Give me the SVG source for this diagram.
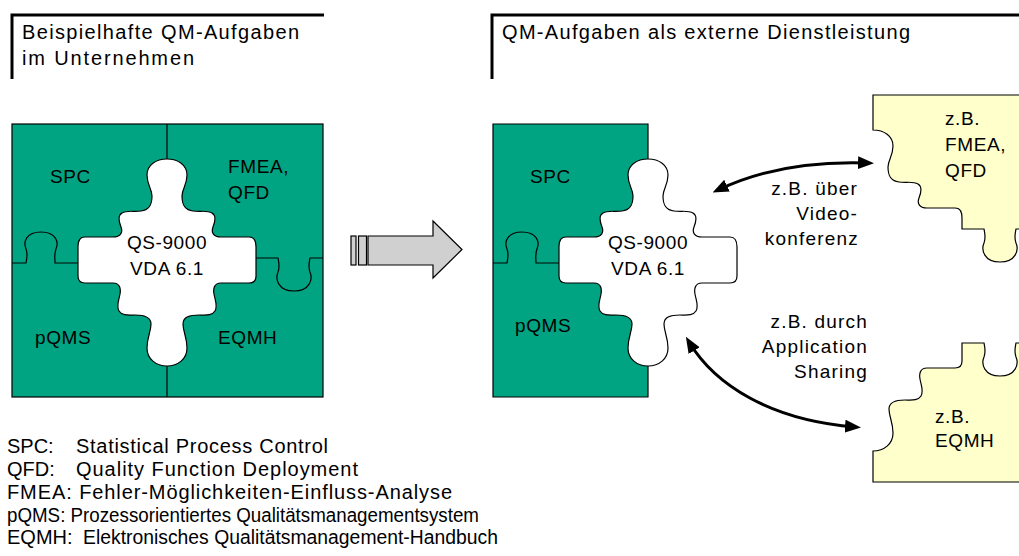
<svg xmlns="http://www.w3.org/2000/svg" width="1019" height="556" viewBox="0 0 1019 556">
<defs>
<style>
text{font-family:"Liberation Sans",Arial,sans-serif;fill:#000}
.lbl{font-size:19px;letter-spacing:0.6px}
.alb{font-size:19px;letter-spacing:1.2px;text-anchor:end}
.hdr{font-size:20px}
.leg{font-size:20px}
.mid{text-anchor:middle}
.green{fill:#00a482;stroke:#000;stroke-width:1.2}
.yellow{fill:#ffffcc;stroke:#000;stroke-width:1.2}
.div{fill:none;stroke:#000;stroke-width:1.2}
.bracket{fill:none;stroke:#000;stroke-width:3;stroke-linejoin:miter}
.conn{fill:none;stroke:#000;stroke-width:3;marker-start:url(#ah);marker-end:url(#ah)}
.hollow{fill:#d0d0d0;stroke:#000;stroke-width:1.2}
</style>
<marker id="ah" markerUnits="userSpaceOnUse" markerWidth="16" markerHeight="13" viewBox="0 0 16 13" refX="10" refY="6.5" orient="auto-start-reverse"><path d="M0,0 L16,6.5 L0,13 z" fill="#000"/></marker>
<path id="cross" d="M0,-103 C11,-103 20,-97 20,-87 C20,-77 15,-73 15,-66 C15,-58 17,-52 26,-51 C34,-50 40,-52 45,-49 C50,-46 48,-40 46,-35 C44,-30 46,-25 54,-25 L82,-25 C88,-25 89,-20 89,-15 L89,14 C89,19 87,21 82,21 L54,21 C47,21 46,27 47,32 C48,38 51,44 48,49 C45,54 38,53 32,53 C23,53 16,55 16,62 C16,70 20,75 20,86 C20,97 11,104 0,104 C-11,104 -20,97 -20,86 C-20,75 -16,70 -16,62 C-16,55 -23,53 -32,53 C-38,53 -45,54 -48,49 C-51,44 -48,38 -47,32 C-46,27 -47,21 -54,21 L-82,21 C-87,21 -89,19 -89,14 L-89,-15 C-89,-20 -88,-25 -82,-25 L-54,-25 C-46,-25 -44,-30 -46,-35 C-48,-40 -50,-46 -45,-49 C-40,-52 -34,-50 -26,-51 C-17,-52 -15,-58 -15,-66 C-15,-73 -20,-77 -20,-87 C-20,-97 -11,-103 0,-103 Z"/>
<path id="leftdiv" d="M-155,1 L-141,1 C-140,-4 -139,-8 -141,-13 C-144,-20 -141,-30 -126,-30 C-111,-30 -108,-20 -111,-13 C-113,-8 -112,-4 -112,1 L-89,1"/>
</defs>

<g id="header-left">
<path class="bracket" d="M12,79 V15 H324"/>
<text class="hdr" x="22" y="39" textLength="277">Beispielhafte QM-Aufgaben</text>
<text class="hdr" x="22" y="65" textLength="172">im Unternehmen</text>
</g>
<g id="header-right">
<path class="bracket" d="M492,79 V15 H1019"/>
<text class="hdr" x="502" y="39" textLength="408">QM-Aufgaben als externe Dienstleistung</text>
</g>

<g id="puzzle-left" transform="translate(167,262)">
<rect x="-155" y="-138" width="311" height="273" class="green"/>
<path class="div" d="M0,-138 V135"/>
<use href="#leftdiv" class="div"/>
<path class="div" d="M89,-4 L111,-4 C112,1 113,5 111,10 C108,17 111,29 127,29 C143,29 146,17 143,10 C141,5 142,1 143,-4 L156,-4"/>
<use href="#cross" fill="#fff" stroke="#000" stroke-width="1.2"/>
<text class="lbl" x="-117" y="-79">SPC</text>
<text class="lbl" x="61" y="-89">FMEA,</text>
<text class="lbl" x="61" y="-63">QFD</text>
<text class="lbl mid" x="0" y="-13">QS-9000</text>
<text class="lbl mid" x="0" y="13">VDA 6.1</text>
<text class="lbl" x="-132" y="82">pQMS</text>
<text class="lbl" x="51" y="82">EQMH</text>
</g>

<g id="transition-arrow">
<rect class="hollow" x="351" y="236" width="5" height="29"/>
<rect class="hollow" x="358.5" y="236" width="8" height="29"/>
<path class="hollow" d="M368,236 H433 V221 L462,249.5 L433,278 V265 H368 Z"/>
</g>

<g id="puzzle-right" transform="translate(648,262)">
<path class="green" d="M-155,-138 H0 V135 H-155 Z"/>
<use href="#leftdiv" class="div"/>
<use href="#cross" fill="#fff" stroke="#000" stroke-width="1.2"/>
<text class="lbl" x="-118" y="-79">SPC</text>
<text class="lbl mid" x="0" y="-13">QS-9000</text>
<text class="lbl mid" x="0" y="13">VDA 6.1</text>
<text class="lbl" x="-133" y="70">pQMS</text>
</g>

<g id="piece-fmea" transform="translate(873,233)">
<path class="yellow" d="M0,-138 H156 V-4 H143 C142,1 141,5 143,10 C146,17 143,29 127,29 C111,29 108,17 111,10 C113,5 112,1 111,-4 L89,-4 L89,-15 C89,-20 88,-25 82,-25 L54,-25 C46,-25 44,-30 46,-35 C48,-40 50,-46 45,-49 C40,-52 34,-50 26,-51 C17,-52 15,-58 15,-66 C15,-73 20,-77 20,-87 C20,-97 11,-103 0,-103 Z"/>
<text class="lbl" x="72" y="-108">z.B.</text>
<text class="lbl" x="72" y="-82">FMEA,</text>
<text class="lbl" x="72" y="-56">QFD</text>
</g>

<g id="piece-eqmh" transform="translate(873,347)">
<path class="yellow" d="M89,-4 L111,-4 C112,1 113,5 111,10 C108,17 111,29 127,29 C143,29 146,17 143,10 C141,5 142,1 143,-4 L156,-4 V135 H0 V104 C11,104 20,97 20,86 C20,75 16,70 16,62 C16,55 23,53 32,53 C38,53 45,54 48,49 C51,44 48,38 47,32 C46,27 47,21 54,21 L82,21 C87,21 89,19 89,14 Z"/>
<text class="lbl" x="62" y="76">z.B.</text>
<text class="lbl" x="62" y="100">EQMH</text>
</g>

<g id="connectors">
<path class="conn" d="M718,190 Q780,160 868,163"/>
<path class="conn" d="M689,342 C715,385 770,420 855,427"/>
</g>

<g id="connector-labels">
<text class="alb" x="858" y="195">z.B. über</text>
<text class="alb" x="858" y="220">Video-</text>
<text class="alb" x="859" y="245">konferenz</text>
<text class="alb" x="868" y="328">z.B. durch</text>
<text class="alb" x="868" y="353">Application</text>
<text class="alb" x="868" y="378">Sharing</text>
</g>

<g id="legend">
<text class="leg" x="7" y="453">SPC:</text>
<text class="leg" x="76" y="453" textLength="252">Statistical Process Control</text>
<text class="leg" x="7" y="476">QFD:</text>
<text class="leg" x="76" y="476" textLength="282">Quality Function Deployment</text>
<text class="leg" x="7" y="499" textLength="445">FMEA: Fehler-Möglichkeiten-Einfluss-Analyse</text>
<text class="leg" x="7" y="522" textLength="472" lengthAdjust="spacingAndGlyphs">pQMS: Prozessorientiertes Qualitätsmanagementsystem</text>
<text class="leg" x="7" y="544">EQMH:</text>
<text class="leg" x="83" y="544" textLength="415" lengthAdjust="spacingAndGlyphs">Elektronisches Qualitätsmanagement-Handbuch</text>
</g>
</svg>
